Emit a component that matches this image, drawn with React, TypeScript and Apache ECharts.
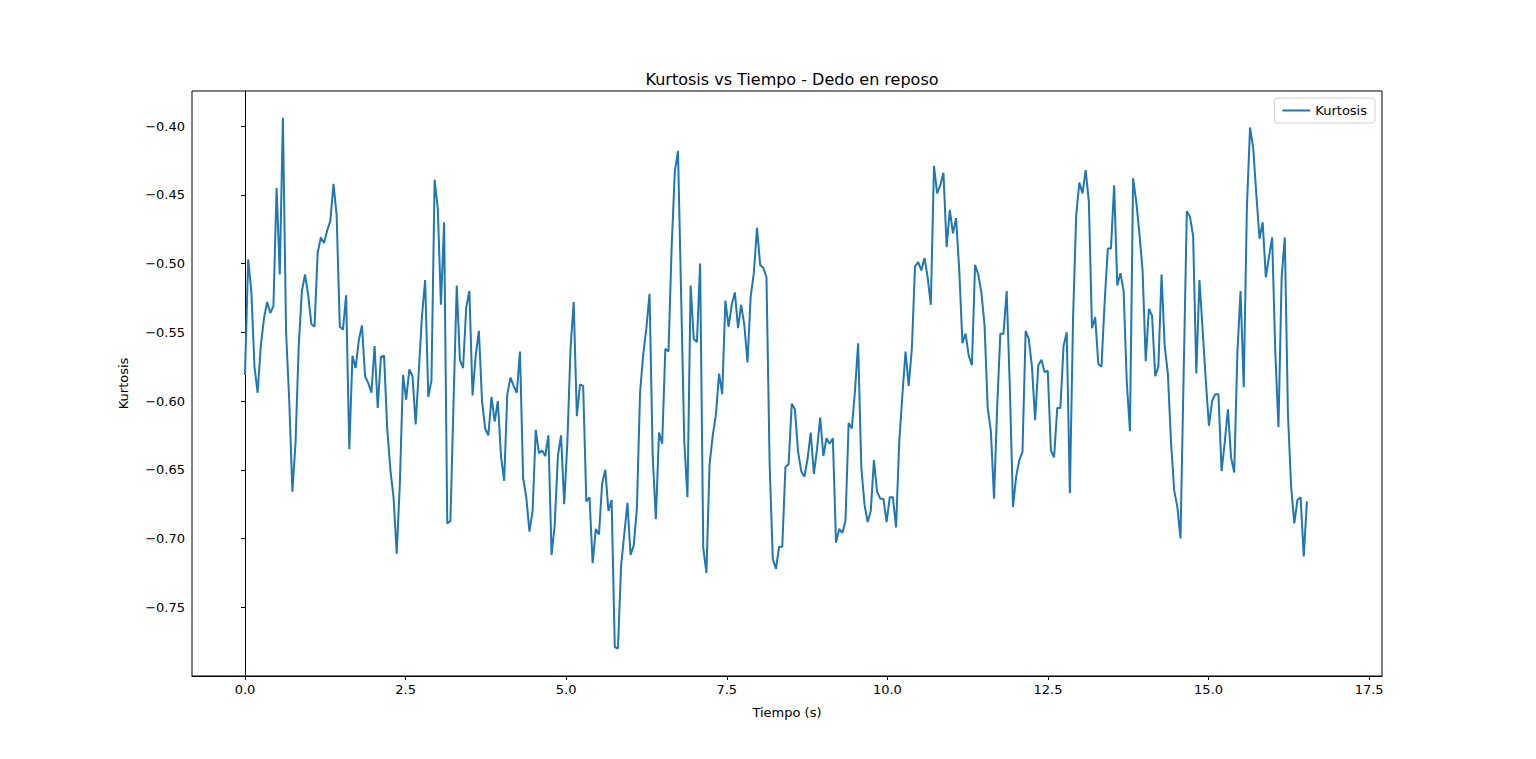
import React, { useEffect, useRef } from 'react';
import * as echarts from 'echarts';

// sample period (s)
const DT = 0.0492;

// kurtosis values, one per sample
const kurtosis = [
  -0.581, -0.497, -0.52, -0.575, -0.594, -0.56, -0.54, -0.528, -0.536, -0.531,
  -0.445, -0.508, -0.394, -0.55, -0.6, -0.666, -0.63, -0.56, -0.52, -0.508,
  -0.523, -0.544, -0.546, -0.492, -0.481, -0.485, -0.476, -0.469, -0.442, -0.465,
  -0.546, -0.548, -0.523, -0.635, -0.567, -0.576, -0.556, -0.545, -0.582, -0.587,
  -0.594, -0.56, -0.605, -0.568, -0.567, -0.62, -0.65, -0.67, -0.711, -0.66,
  -0.581, -0.599, -0.577, -0.582, -0.617, -0.578, -0.538, -0.512, -0.597, -0.585,
  -0.439, -0.46, -0.53, -0.47, -0.689, -0.687, -0.6, -0.516, -0.57, -0.576,
  -0.532, -0.52, -0.596, -0.567, -0.549, -0.6, -0.62, -0.625, -0.597, -0.615,
  -0.6, -0.64, -0.658, -0.595, -0.583, -0.589, -0.594, -0.564, -0.656, -0.67,
  -0.695, -0.68, -0.621, -0.638, -0.636, -0.64, -0.625, -0.712, -0.69, -0.64,
  -0.625, -0.675, -0.63, -0.562, -0.528, -0.611, -0.588, -0.589, -0.673, -0.67,
  -0.718, -0.693, -0.697, -0.66, -0.65, -0.68, -0.672, -0.779, -0.78, -0.72,
  -0.697, -0.674, -0.712, -0.705, -0.678, -0.594, -0.566, -0.547, -0.522, -0.64,
  -0.686, -0.623, -0.631, -0.562, -0.564, -0.488, -0.433, -0.418, -0.523, -0.63,
  -0.67, -0.516, -0.555, -0.557, -0.5, -0.707, -0.725, -0.646, -0.625, -0.61,
  -0.58, -0.595, -0.527, -0.546, -0.53, -0.521, -0.547, -0.53, -0.545, -0.572,
  -0.524, -0.507, -0.474, -0.501, -0.503, -0.51, -0.646, -0.715, -0.722, -0.706,
  -0.706, -0.648, -0.646, -0.602, -0.606, -0.637, -0.651, -0.655, -0.642, -0.623,
  -0.653, -0.635, -0.612, -0.64, -0.627, -0.631, -0.627, -0.703, -0.693, -0.696,
  -0.687, -0.616, -0.62, -0.593, -0.558, -0.648, -0.675, -0.688, -0.68, -0.643,
  -0.666, -0.671, -0.671, -0.688, -0.67, -0.67, -0.692, -0.63, -0.596, -0.564,
  -0.589, -0.562, -0.502, -0.499, -0.505, -0.496, -0.51, -0.53, -0.429, -0.449,
  -0.443, -0.434, -0.488, -0.461, -0.478, -0.467, -0.505, -0.558, -0.551, -0.567,
  -0.574, -0.501, -0.508, -0.521, -0.545, -0.605, -0.622, -0.671, -0.604, -0.551,
  -0.551, -0.52, -0.59, -0.677, -0.655, -0.643, -0.637, -0.549, -0.555, -0.575,
  -0.614, -0.574, -0.57, -0.579, -0.578, -0.636, -0.641, -0.605, -0.605, -0.56,
  -0.55, -0.667, -0.54, -0.465, -0.441, -0.449, -0.432, -0.455, -0.547, -0.539,
  -0.573, -0.575, -0.528, -0.489, -0.489, -0.443, -0.516, -0.507, -0.52, -0.586,
  -0.622, -0.438, -0.455, -0.478, -0.505, -0.571, -0.533, -0.538, -0.582, -0.575,
  -0.508, -0.56, -0.58, -0.63, -0.665, -0.677, -0.7, -0.58, -0.462, -0.466,
  -0.48, -0.58, -0.512, -0.548, -0.585, -0.618, -0.6, -0.595, -0.595, -0.651,
  -0.63, -0.606, -0.641, -0.652, -0.565, -0.52, -0.59, -0.46, -0.401, -0.416,
  -0.45, -0.482, -0.47, -0.51, -0.495, -0.481, -0.565, -0.619, -0.51, -0.481,
  -0.61, -0.662, -0.689, -0.672, -0.67, -0.713, -0.673,
];

const xTicks = [0, 2.5, 5, 7.5, 10, 12.5, 15, 17.5];
const yTicks = [-0.75, -0.7, -0.65, -0.6, -0.55, -0.5, -0.45, -0.4];

const FONT = 'DejaVu Sans';

const App = () => {
  const chartRef = useRef<HTMLDivElement>(null);

  useEffect(() => {
    if (!chartRef.current) return;
    const chart = echarts.init(chartRef.current, null, { renderer: 'svg' });
    const points = kurtosis.map((v, i) => [i * DT, v]);

    chart.setOption({
      animation: false,
      textStyle: { fontFamily: FONT },
      title: {
        text: 'Kurtosis vs Tiempo - Dedo en reposo',
        left: 787,
        top: 66,
        textAlign: 'center',
        textStyle: { fontFamily: FONT, fontSize: 16, fontWeight: 'normal', color: '#000' },
      },
      legend: {
        data: ['Kurtosis'],
        right: 161,
        top: 98,
        itemWidth: 28,
        itemHeight: 2,
        icon: 'rect',
        padding: [6, 8, 6, 8],
        borderColor: '#d0d0d0',
        borderWidth: 1,
        borderRadius: 3,
        textStyle: { fontFamily: FONT, fontSize: 13, color: '#000' },
      },
      grid: {
        left: 192,
        right: 154,
        top: 91,
        bottom: 83,
        show: true,
        borderColor: '#000',
        borderWidth: 1,
      },
      xAxis: {
        type: 'value',
        min: -0.825,
        max: 17.7,
        name: 'Tiempo (s)',
        nameLocation: 'middle',
        nameGap: 30,
        nameTextStyle: { fontFamily: FONT, fontSize: 13, color: '#000' },
        splitLine: { show: false },
        axisLine: { lineStyle: { color: '#000' } },
        axisTick: { customValues: xTicks, length: 4, lineStyle: { color: '#000' } },
        axisLabel: {
          customValues: xTicks,
          formatter: (v: number) => v.toFixed(1),
          fontFamily: FONT,
          fontSize: 13,
          color: '#000',
          margin: 7,
        },
      },
      yAxis: {
        type: 'value',
        min: -0.8,
        max: -0.3745,
        name: 'Kurtosis',
        nameLocation: 'middle',
        nameGap: 62,
        nameTextStyle: { fontFamily: FONT, fontSize: 13, color: '#000' },
        splitLine: { show: false },
        axisLine: { show: true, lineStyle: { color: '#000' } },
        axisTick: { show: true, customValues: yTicks, length: 4, lineStyle: { color: '#000' } },
        axisLabel: {
          customValues: yTicks,
          formatter: (v: number) => '\u2212' + Math.abs(v).toFixed(2),
          fontFamily: FONT,
          fontSize: 13,
          color: '#000',
          margin: 7,
        },
      },
      series: [
        {
          name: 'Kurtosis',
          type: 'line',
          data: points,
          symbol: 'none',
          lineStyle: { color: '#1f77b4', width: 2 },
          itemStyle: { color: '#1f77b4' },
        },
      ],
    });

    return () => chart.dispose();
  }, []);

  return <div ref={chartRef} style={{ width: 1536, height: 759, margin: -8 }} />;
};

export default App;
